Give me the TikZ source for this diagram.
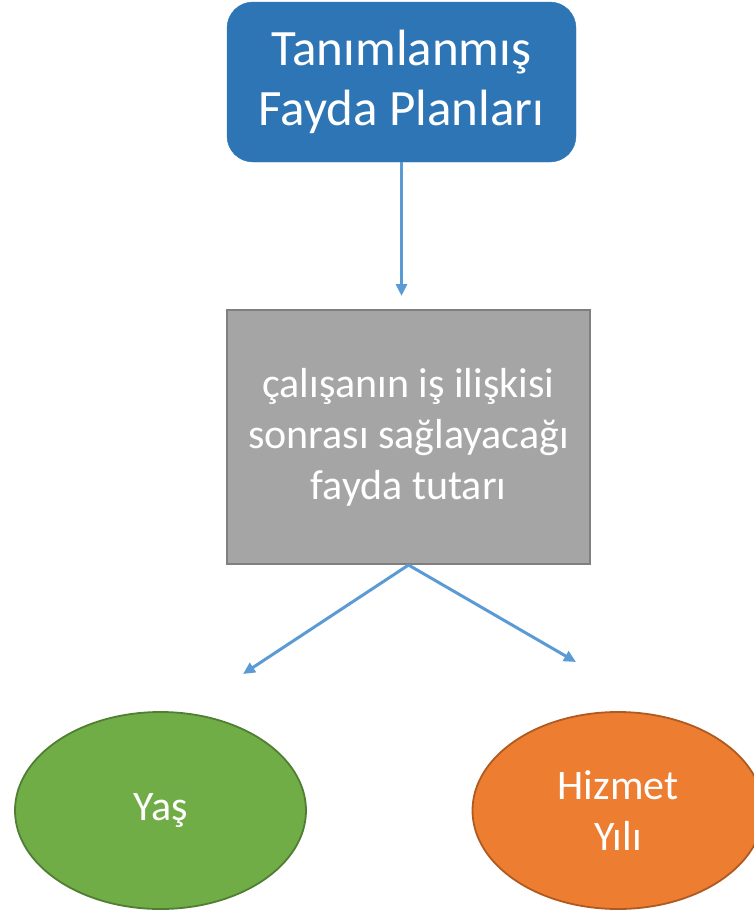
\documentclass[tikz,border=0pt]{standalone}
\usepackage{fontspec}
\setmainfont{Carlito}
\usetikzlibrary{arrows.meta,shapes.geometric}
\definecolor{planblue}{HTML}{2E75B6}
\definecolor{linkblue}{HTML}{5B9BD5}
\definecolor{boxgray}{HTML}{A5A5A5}
\definecolor{edgegray}{HTML}{7F7F7F}
\definecolor{agegreen}{HTML}{70AD47}
\definecolor{ageedge}{HTML}{507E32}
\definecolor{yearorange}{HTML}{ED7D31}
\definecolor{yearedge}{HTML}{AE5A21}
\tikzset{
  plan/.style={rectangle, rounded corners=26pt, fill=planblue, draw=planblue, minimum width=349pt, minimum height=160pt, text=white, align=center, font=\fontsize{51}{60}\selectfont},
  amount/.style={rectangle, fill=boxgray, draw=edgegray, line width=2pt, minimum width=363pt, minimum height=254pt, text=white, align=center, font=\fontsize{42}{51}\selectfont},
  factor/.style={ellipse, line width=1.8pt, minimum width=291pt, minimum height=197pt, inner sep=0pt, text=white, align=center, font=\fontsize{42}{51}\selectfont},
  link/.style={linkblue, line width=3pt, -{Triangle[length=12pt,width=11pt]}}
}
\begin{document}
\begin{tikzpicture}[x=1pt, y=-1pt]
	\useasboundingbox (0,0) rectangle (753,913);
	\node [plan] (plan) at (401.5,82) {Tanımlanmış\\Fayda Planları};
	\node [amount] (amount) at (408.5,437) {çalışanın iş ilişkisi\\sonrası sağlayacağı\\fayda tutarı};
	\node [factor, fill=agegreen, draw=ageedge] (age) at (160.5,810.5) {Yaş};
	\node [factor, fill=yearorange, draw=yearedge] (years) at (618,810.5) {Hizmet\\Yılı};
	\coordinate (planend) at (401.5,296);
	\coordinate (ageend) at (243,674);
	\coordinate (yearsend) at (576,662);
	\draw [link] (plan.south) -- (planend);
	\draw [link] (amount.south) -- (ageend);
	\draw [link] (amount.south) -- (yearsend);
\end{tikzpicture}
\end{document}
